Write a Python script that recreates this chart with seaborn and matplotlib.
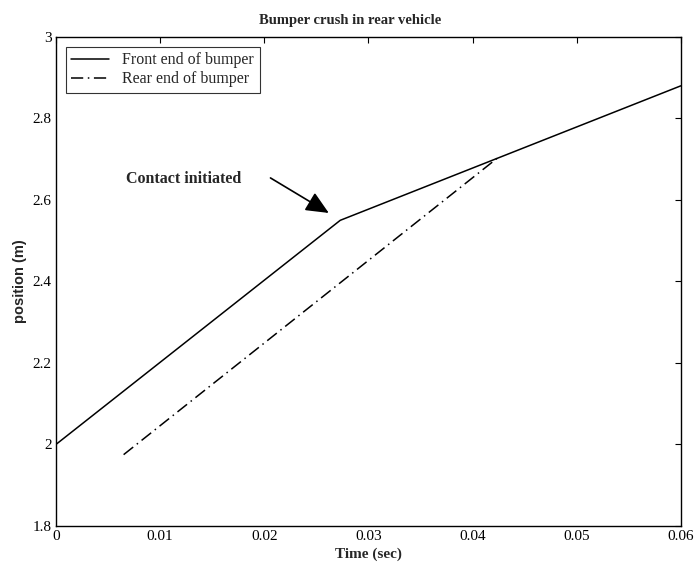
import matplotlib
matplotlib.use("Agg")
import matplotlib.pyplot as plt
import seaborn as sns
import pandas as pd

# Data
front_time = [0.0, 0.0273, 0.06]
front_pos = [2.0, 2.55, 2.88]
rear_time = [0.0065, 0.0424]
rear_pos = [1.975, 2.703]
series_names = ["Front end of bumper", "Rear end of bumper"]
x_ticks = [0, 0.01, 0.02, 0.03, 0.04, 0.05, 0.06]
x_tick_labels = ["0", "0.01", "0.02", "0.03", "0.04", "0.05", "0.06"]
y_ticks = [1.8, 2.0, 2.2, 2.4, 2.6, 2.8, 3.0]
y_tick_labels = ["1.8", "2", "2.2", "2.4", "2.6", "2.8", "3"]

df = pd.DataFrame({
    "time": front_time + rear_time,
    "pos": front_pos + rear_pos,
    "series": [series_names[0]] * len(front_time) + [series_names[1]] * len(rear_time),
})

sns.set_style("white")
plt.rcParams["font.family"] = ["Liberation Serif", "DejaVu Serif"]

fig = plt.figure(figsize=(6.99, 5.68), dpi=100)
ax = fig.add_axes([0.080, 0.074, 0.894, 0.861])

sns.lineplot(data=df, x="time", y="pos", hue="series", style="series",
             palette=["black", "black"], dashes=[(None, None), (8, 3, 1, 3)],
             linewidth=1.1, ax=ax, estimator=None, sort=False)

ax.set_xlim(0, 0.06)
ax.set_ylim(1.8, 3.0)
ax.set_xticks(x_ticks, x_tick_labels)
ax.set_yticks(y_ticks, y_tick_labels)
ax.tick_params(direction="in", top=True, right=True, length=4, labelsize=11,
               color="black", labelcolor="black", pad=3)
for s in ax.spines.values():
    s.set_color("black")
    s.set_linewidth(1.0)

ax.set_title("Bumper crush in rear vehicle", fontsize=10.5, fontweight="bold",
             pad=9, x=0.47)
ax.set_xlabel("Time (sec)", fontsize=11, fontweight="bold", labelpad=3)
ax.set_ylabel("position (m)", fontsize=10.5, fontweight="bold",
              family=["Liberation Sans", "DejaVu Sans"], labelpad=4)

leg = ax.legend(loc="upper left", fontsize=11.5, frameon=True, fancybox=False,
                edgecolor="black", handlelength=2.4, borderaxespad=0.6,
                borderpad=0.35, labelspacing=0.2)
leg.get_frame().set_linewidth(0.8)

ax.text(0.0067, 2.652, "Contact initiated", fontsize=11.5, fontweight="bold",
        ha="left", va="center")
ax.annotate("", xy=(0.0262, 2.568), xytext=(0.0206, 2.654),
            arrowprops=dict(arrowstyle="-|>,head_width=0.45,head_length=1.0",
                            color="black", lw=1.2, mutation_scale=14,
                            shrinkA=0, shrinkB=0))

fig.savefig("out.png", dpi=100)
